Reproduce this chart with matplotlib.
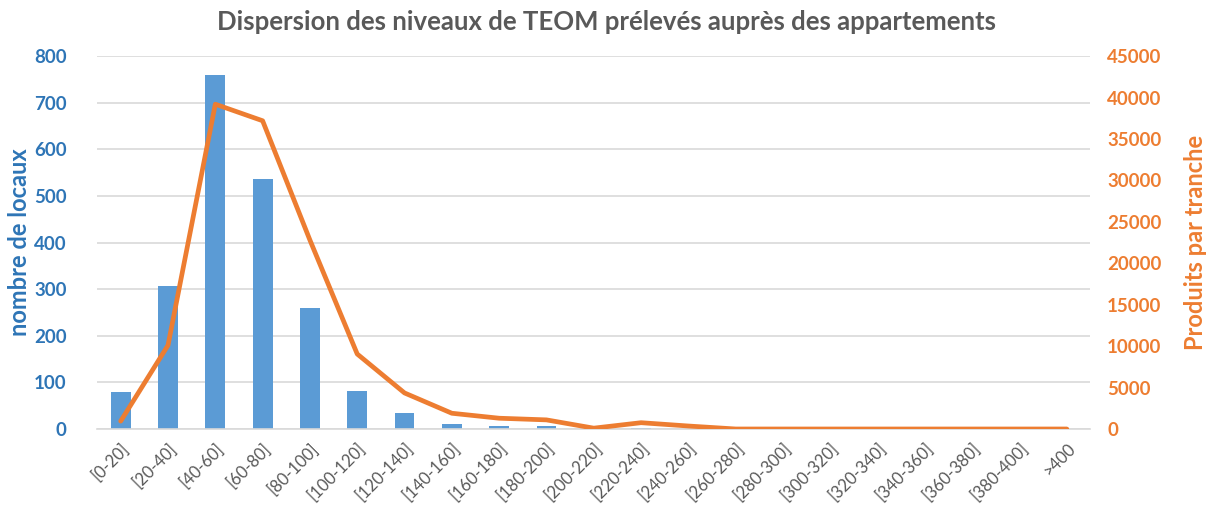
import numpy as np
import matplotlib.pyplot as plt

plt.rcParams["font.family"] = ["Lato", "DejaVu Sans"]

# Tranches de TEOM
tranches = [
    "[0-20]", "[20-40]", "[40-60]", "[60-80]", "[80-100]", "[100-120]",
    "[120-140]", "[140-160]", "[160-180]", "[180-200]", "[200-220]",
    "[220-240]", "[240-260]", "[260-280]", "[280-300]", "[300-320]",
    "[320-340]", "[340-360]", "[360-380]", "[380-400]", ">400",
]
nb_locaux = [80, 307, 760, 537, 260, 82, 34, 11, 6, 6, 0, 2, 0, 0, 0, 0, 0, 0, 0, 0, 0]
produits = [950, 10100, 39200, 37200, 22800, 9050, 4350, 1900, 1300, 1100,
            100, 760, 360, 0, 0, 0, 0, 0, 0, 0, 0]

blue = "#5B9BD5"
blue_txt = "#2E75B6"
orange = "#ED7D31"
grey = "#595959"

x = np.arange(len(tranches))

fig = plt.figure(figsize=(12.13, 5.15), dpi=100)
ax = fig.add_axes([0.08, 0.167, 0.819, 0.724])
ax2 = ax.twinx()

ax.bar(x, nb_locaux, width=0.42, color=blue, zorder=2)
ax2.plot(x, produits, color=orange, linewidth=3.4, solid_capstyle="round", zorder=3)

ax.set_xlim(-0.5, len(tranches) - 0.5)
ax.set_ylim(0, 800)
ax2.set_ylim(0, 45000)
ax.set_yticks(np.arange(0, 801, 100))
ax2.set_yticks(np.arange(0, 45001, 5000))

ax.yaxis.grid(True, color="#D9D9D9", linewidth=1.2, zorder=0)
ax.set_axisbelow(True)

for a in (ax, ax2):
    for s in a.spines.values():
        s.set_visible(False)
ax.spines["bottom"].set_visible(True)
ax.spines["bottom"].set_color("#D9D9D9")
ax.spines["bottom"].set_linewidth(1.2)

ax.set_xticks(x)
ax.set_xticklabels(tranches, rotation=45, ha="right", rotation_mode="anchor",
                   fontsize=12, color=grey)
ax.tick_params(axis="x", length=0, pad=8)
ax.tick_params(axis="y", length=0, labelsize=13.5, labelcolor=blue_txt, pad=22)
ax2.tick_params(axis="y", length=0, labelsize=13.5, labelcolor=orange, pad=12)
for lbl in ax.get_yticklabels():
    lbl.set_fontweight("bold")
for lbl in ax2.get_yticklabels():
    lbl.set_fontweight("bold")

ax.set_ylabel("nombre de locaux", fontsize=17, fontweight="bold", color=blue_txt, labelpad=2)
ax2.set_ylabel("Produits par tranche", fontsize=17, fontweight="bold", color=orange, labelpad=16)

fig.suptitle("Dispersion des niveaux de TEOM prélevés auprès des appartements",
             fontsize=18.5, fontweight="bold", color=grey, y=0.98)

fig.savefig("out.png", dpi=100)
